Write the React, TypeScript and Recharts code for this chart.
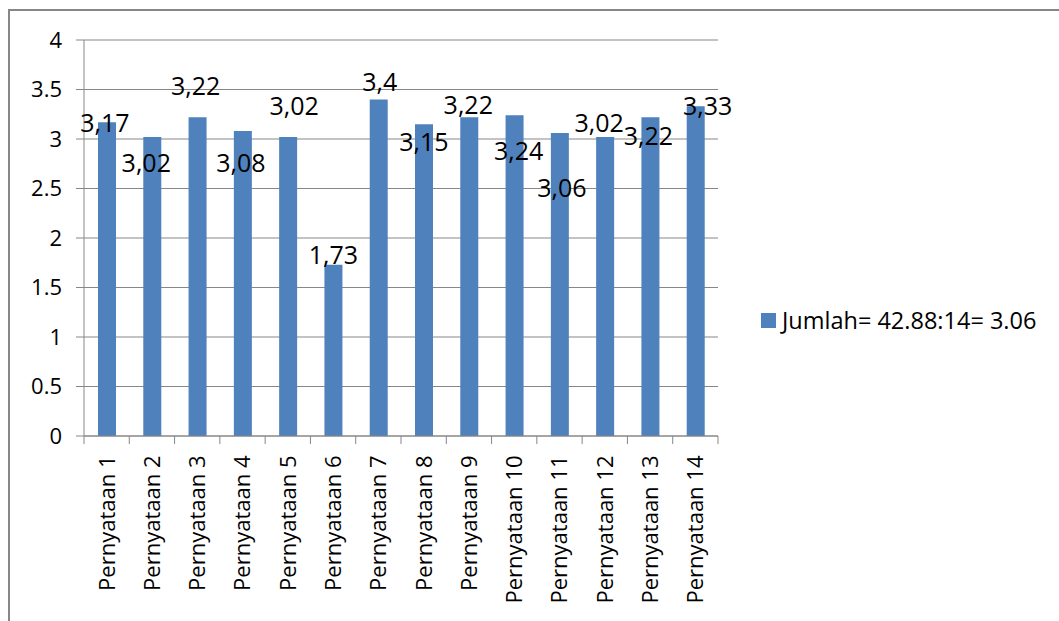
import { BarChart, Bar, XAxis, YAxis, CartesianGrid, Legend, LabelList } from 'recharts';

// Mean score per statement
const categories = [
  'Pernyataan 1', 'Pernyataan 2', 'Pernyataan 3', 'Pernyataan 4', 'Pernyataan 5',
  'Pernyataan 6', 'Pernyataan 7', 'Pernyataan 8', 'Pernyataan 9', 'Pernyataan 10',
  'Pernyataan 11', 'Pernyataan 12', 'Pernyataan 13', 'Pernyataan 14',
];
const scores = [3.17, 3.02, 3.22, 3.08, 3.02, 1.73, 3.4, 3.15, 3.22, 3.24, 3.06, 3.02, 3.22, 3.33];
const yTicks = [0, 0.5, 1, 1.5, 2, 2.5, 3, 3.5, 4];
const seriesName = 'Jumlah= 42.88:14= 3.06';

// Hand-placed label nudges (dx, dy) from the top centre of each bar
const labelNudge: [number, number][] = [
  [-2, 0], [-6, 25], [-2, -32], [-2, 31], [6, -32], [0, -11], [1, -18],
  [0, 17], [-1, -13], [4, 35], [2, 54], [-6, -15], [-2, 18], [12, -1],
];

const data = categories.map((name, i) => ({ name, value: scores[i] }));

const FONT = '"Open Sans", "Noto Sans", sans-serif';
const BAR = '#4F81BD';
const LINE = '#878787';

function CategoryTick(props: any) {
  const { x, y, payload, index } = props;
  const half = payload?.offset ?? 0;
  const ty = y + 19.5;
  return (
    <g>
      <line x1={x - half} y1={y} x2={x - half} y2={y + 8} stroke={LINE} />
      {index === categories.length - 1 && (
        <line x1={x + half} y1={y} x2={x + half} y2={y + 8} stroke={LINE} />
      )}
      <text
        x={x}
        y={ty}
        dy="0.36em"
        textAnchor="end"
        transform={`rotate(-90, ${x}, ${ty})`}
        fontSize={22}
        fontFamily={FONT}
        fill="#000"
      >
        {payload.value}
      </text>
    </g>
  );
}

function ValueLabel(props: any) {
  const { x, y, width, index, value } = props;
  const [dx, dy] = labelNudge[index] ?? [0, 0];
  return (
    <text
      x={x + width / 2 + dx}
      y={y + dy}
      textAnchor="middle"
      dominantBaseline="central"
      fontSize={25}
      fontFamily={FONT}
      fill="#000"
    >
      {String(value).replace('.', ',')}
    </text>
  );
}

function LegendBox() {
  return (
    <div style={{ display: 'flex', alignItems: 'center', fontFamily: FONT, fontSize: 23.5, color: '#000' }}>
      <span style={{ width: 15, height: 15, background: BAR, marginRight: 6, display: 'inline-block' }} />
      <span style={{ whiteSpace: 'nowrap' }}>{seriesName}</span>
    </div>
  );
}

export default function App() {
  return (
    <div style={{ position: 'absolute', left: 0, top: 0, width: 1059, height: 621, overflow: 'hidden', background: '#fff' }}>
      <div
        style={{
          position: 'absolute', left: 8, top: 9, width: 1051, height: 612,
          borderLeft: `2px solid ${LINE}`, borderTop: `2px solid ${LINE}`, boxSizing: 'border-box',
        }}
      />
      <BarChart
        width={1059}
        height={621}
        data={data}
        margin={{ top: 40, right: 341, bottom: 0, left: 0 }}
        style={{ position: 'absolute', left: 0, top: 0 }}
      >
        <CartesianGrid vertical={false} stroke={LINE} />
        <XAxis
          dataKey="name"
          interval={0}
          height={185}
          tickSize={0}
          tickMargin={0}
          tickLine={false}
          axisLine={{ stroke: LINE }}
          tick={<CategoryTick />}
        />
        <YAxis
          domain={[0, 4]}
          ticks={yTicks}
          width={84}
          tickSize={8}
          tickMargin={14}
          axisLine={{ stroke: LINE }}
          tickLine={{ stroke: LINE }}
          tick={{ fill: '#000', fontSize: 22, fontFamily: FONT }}
        />
        <Legend
          layout="horizontal"
          align="center"
          verticalAlign="middle"
          content={<LegendBox />}
          wrapperStyle={{ position: 'absolute', left: 761, top: 304, width: 300 }}
        />
        <Bar dataKey="value" name={seriesName} fill={BAR} barSize={18} isAnimationActive={false}>
          <LabelList dataKey="value" content={<ValueLabel />} />
        </Bar>
      </BarChart>
    </div>
  );
}
